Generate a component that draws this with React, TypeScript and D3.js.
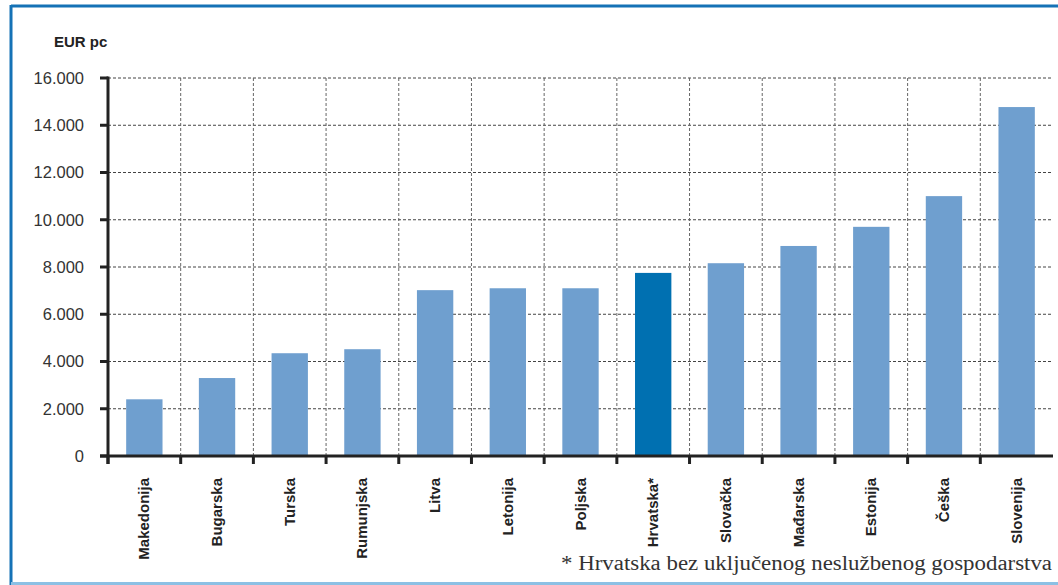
import React from "react";
import * as d3 from "d3";

const categories = ["Makedonija", "Bugarska", "Turska", "Rumunjska", "Litva", "Letonija", "Poljska", "Hrvatska*", "Slovačka", "Mađarska", "Estonija", "Češka", "Slovenija"];
const values = [2400, 3300, 4350, 4520, 7020, 7100, 7100, 7750, 8160, 8890, 9700, 11000, 14770];
const highlighted = ["Hrvatska*"];
const yTicks = [0, 2000, 4000, 6000, 8000, 10000, 12000, 14000, 16000];
const yTickLabels = ["0", "2.000", "4.000", "6.000", "8.000", "10.000", "12.000", "14.000", "16.000"];
const unitLabel = "EUR pc";
const footnote = "* Hrvatska bez uključenog neslužbenog gospodarstva";

const W = 1058;
const H = 585;
const left = 108, right = 1053, top = 78, bottom = 456;

export default function App() {
  const x = d3.scaleBand<string>().domain(categories).range([left, right]).paddingInner(0.5).paddingOuter(0.25);
  const xb = d3.scaleBand<string>().domain(categories).range([left, right]).padding(0);
  const y = d3.scaleLinear().domain([0, 16000]).range([bottom, top]);
  const sans = "'Liberation Sans', Arial, sans-serif";
  const boundaries = categories.map((c) => xb(c) as number);

  return (
    <svg width={W} height={H} style={{ position: "absolute", left: 0, top: 0, background: "#fff" }}>
      {/* frame */}
      <line x1={11} y1={6} x2={W} y2={6} stroke="#1572b6" strokeWidth={3} />
      <line x1={11} y1={5} x2={11} y2={H} stroke="#1572b6" strokeWidth={3} />
      <line x1={11} y1={583.5} x2={W} y2={583.5} stroke="#8cc0e4" strokeWidth={3} />

      {/* horizontal grid */}
      {yTicks.filter((t) => t > 0).map((t) => (
        <line key={"h" + t} x1={left} x2={right} y1={y(t)} y2={y(t)} stroke="#444" strokeWidth={1} strokeDasharray="3,2" />
      ))}
      {/* vertical grid */}
      {boundaries.slice(1).map((bx, i) => (
        <line key={"v" + i} x1={bx} x2={bx} y1={top} y2={bottom} stroke="#666" strokeWidth={1} strokeDasharray="3,2" />
      ))}

      {/* bars */}
      {categories.map((c, i) => (
        <rect key={c} x={x(c)} y={y(values[i])} width={x.bandwidth()} height={bottom - y(values[i])}
          fill={highlighted.includes(c) ? "#0070b1" : "#6f9fcf"} />
      ))}

      {/* axes */}
      <line x1={left} x2={left} y1={top - 1.5} y2={bottom + 8} stroke="#222" strokeWidth={3} />
      {yTicks.map((t) => (
        <line key={"yt" + t} x1={100} x2={left} y1={y(t)} y2={y(t)} stroke="#222" strokeWidth={3} />
      ))}
      <line x1={100} x2={right} y1={bottom} y2={bottom} stroke="#222" strokeWidth={3} />
      {boundaries.map((bx, i) => (
        <line key={"xt" + i} x1={bx} x2={bx} y1={bottom} y2={bottom + 8} stroke="#222" strokeWidth={3} />
      ))}

      {/* y tick labels */}
      {yTicks.map((t, i) => (
        <text key={"yl" + t} x={84} y={y(t)} dy="0.36em" textAnchor="end" fontFamily={sans} fontSize={16.5} fill="#333">
          {yTickLabels[i]}
        </text>
      ))}

      <text x={54} y={47} fontFamily={sans} fontSize={15} fontWeight="bold" fill="#222">{unitLabel}</text>

      {/* category labels */}
      {categories.map((c) => {
        const cx = (x(c) as number) + x.bandwidth() / 2;
        return (
          <text key={"cl" + c} transform={`translate(${cx + 5},478) rotate(-90)`} textAnchor="end"
            fontFamily={sans} fontSize={15} fontWeight="bold" fill="#222">
            {c}
          </text>
        );
      })}

      <text x={1052} y={570} textAnchor="end" fontFamily="'Liberation Serif', 'DejaVu Serif', serif" fontSize={20}
        textLength={491} lengthAdjust="spacingAndGlyphs" fill="#333">
        {footnote}
      </text>
    </svg>
  );
}
